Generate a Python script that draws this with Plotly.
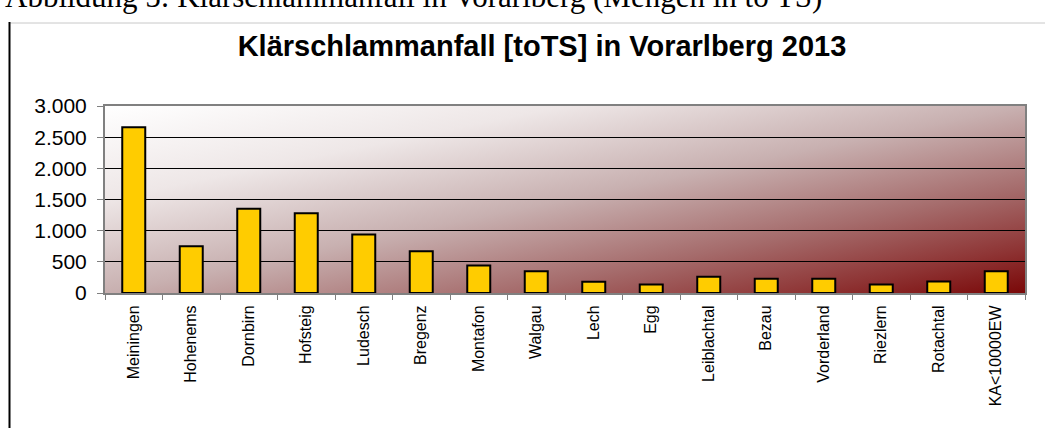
import base64
import plotly.graph_objects as go

# Sewage sludge volume per treatment plant, Vorarlberg 2013 (t dry solids)
plants = ["Meiningen", "Hohenems", "Dornbirn", "Hofsteig", "Ludesch", "Bregenz",
          "Montafon", "Walgau", "Lech", "Egg", "Leiblachtal", "Bezau",
          "Vorderland", "Riezlern", "Rotachtal", "KA<10000EW"]
sludge_tots = [2660, 750, 1350, 1280, 940, 670, 440, 350, 180, 135, 260, 230,
               230, 135, 185, 350]
y_ticks = [0, 500, 1000, 1500, 2000, 2500, 3000]

W, H = 1052, 428
ML, MR, MT, MB = 105, 27, 106, 135
PW, PH = W - ML - MR, H - MT - MB


def px(x):
    return (x - ML) / PW


def py(y):
    return (H - MB - y) / PH


# diagonal white -> dark red backdrop for the plot area
svg = (
    '<svg xmlns="http://www.w3.org/2000/svg" width="920" height="187" '
    'viewBox="0 0 920 187" preserveAspectRatio="none">'
    '<defs><linearGradient id="g" x1="0" y1="0" x2="1" y2="1">'
    '<stop offset="0" stop-color="#ffffff"/>'
    '<stop offset="0.25" stop-color="#eee7e7"/>'
    '<stop offset="0.5" stop-color="#c8b0b0"/>'
    '<stop offset="0.72" stop-color="#a56b6b"/>'
    '<stop offset="0.88" stop-color="#8e3434"/>'
    '<stop offset="1" stop-color="#7a0808"/>'
    '</linearGradient></defs>'
    '<rect width="920" height="187" fill="url(#g)"/></svg>'
)
bg_src = "data:image/svg+xml;base64," + base64.b64encode(svg.encode()).decode()

fig = go.Figure(go.Bar(
    x=plants, y=sludge_tots, width=0.4,
    marker=dict(color="#ffcc00", line=dict(color="#000000", width=2)),
))

fig.update_layout(
    width=W, height=H,
    margin=dict(l=ML, r=MR, t=MT, b=MB, pad=0),
    paper_bgcolor="#ffffff",
    plot_bgcolor="rgba(0,0,0,0)",
    separators=",.",
    showlegend=False,
    font=dict(family="Liberation Sans, Arial, sans-serif", color="#000000"),
    title=dict(
        text="<b>Klärschlammanfall [toTS] in Vorarlberg 2013</b>",
        font=dict(size=29, family="Liberation Sans, Arial, sans-serif", color="#000000"),
        x=px(542), xref="paper", xanchor="center",
        y=1 - 46 / H, yref="container", yanchor="middle",
    ),
    images=[dict(source=bg_src, xref="paper", yref="paper", x=0, y=1,
                 sizex=1, sizey=1, sizing="stretch", layer="below",
                 xanchor="left", yanchor="top")],
    xaxis=dict(
        type="category", tickangle=-90, tickson="boundaries",
        ticks="outside", ticklen=5, tickcolor="#808080", tickwidth=1,
        showline=True, linecolor="#808080", linewidth=2, mirror=True,
        showgrid=False, tickfont=dict(size=16), ticklabelstandoff=4,
    ),
    yaxis=dict(
        range=[0, 3000], tickvals=y_ticks, tickformat=",d",
        ticks="outside", ticklen=6, tickcolor="#808080", tickwidth=1,
        showline=True, linecolor="#808080", linewidth=2, mirror=True,
        showgrid=True, gridcolor="#000000", gridwidth=1,
        zeroline=False, tickfont=dict(size=21), ticklabelstandoff=6,
    ),
    annotations=[dict(
        text="Abbildung 5: Klärschlammanfall in Vorarlberg (Mengen in to TS)",
        xref="paper", yref="paper", x=px(3), y=py(16),
        xanchor="left", yanchor="bottom", showarrow=False,
        font=dict(size=31, family="Liberation Serif, Times New Roman, serif",
                  color="#000000"),
    )],
    shapes=[
        # chart frame: thin grey top edge, heavy black left edge
        dict(type="line", xref="paper", yref="paper", x0=px(9), x1=px(1045),
             y0=py(23), y1=py(23), line=dict(color="#c8c8c8", width=1)),
        dict(type="line", xref="paper", yref="paper", x0=px(9.5), x1=px(9.5),
             y0=py(22), y1=py(H + 2), line=dict(color="#000000", width=2)),
    ],
)

fig.write_html("out.html")
